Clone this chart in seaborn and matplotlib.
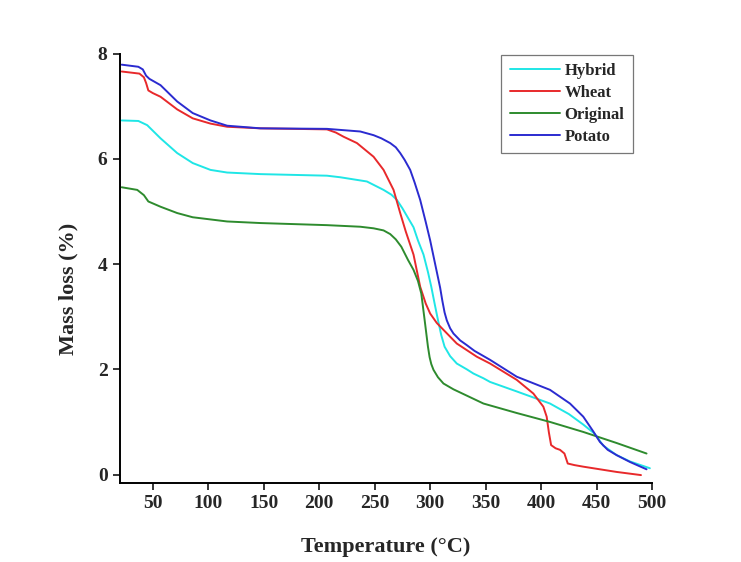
import numpy as np
import pandas as pd
import matplotlib
matplotlib.use("Agg")
import matplotlib.pyplot as plt
import seaborn as sns

# Thermogravimetric curves: temperature (°C) vs. mass loss (%)
T_hybrid = [22, 37, 45, 57, 72, 86, 102, 117, 147, 207, 219, 243, 258, 265, 270, 275,
            280, 285, 289, 294, 298, 301, 304, 307, 310, 313, 318, 324, 333, 339, 348,
            354, 378, 408, 425, 438, 448, 456, 468, 480, 498]
V_hybrid = [6.73, 6.72, 6.64, 6.39, 6.11, 5.92, 5.79, 5.74, 5.71, 5.68, 5.65, 5.57, 5.41,
            5.32, 5.22, 5.06, 4.88, 4.70, 4.45, 4.18, 3.85, 3.57, 3.25, 2.94, 2.65, 2.43,
            2.25, 2.11, 2.00, 1.92, 1.83, 1.76, 1.58, 1.35, 1.15, 0.95, 0.78, 0.55, 0.37,
            0.25, 0.12]

T_wheat = [22, 38, 42, 44, 46, 50, 57, 72, 86, 102, 117, 147, 207, 215, 222, 234, 249,
           258, 267, 273, 278, 285, 291, 296, 300, 306, 312, 324, 342, 354, 378, 393, 402,
           405, 407, 409, 413, 417, 421, 424, 430, 438, 468, 490]
V_wheat = [7.66, 7.62, 7.55, 7.44, 7.30, 7.25, 7.18, 6.94, 6.77, 6.67, 6.61, 6.58, 6.56,
           6.50, 6.42, 6.30, 6.04, 5.79, 5.41, 4.97, 4.62, 4.18, 3.57, 3.25, 3.06, 2.88,
           2.75, 2.49, 2.24, 2.11, 1.80, 1.54, 1.29, 1.10, 0.80, 0.56, 0.50, 0.47, 0.40,
           0.21, 0.18, 0.15, 0.05, -0.01]

T_original = [22, 36, 42, 46, 57, 72, 86, 117, 147, 207, 237, 249, 258, 264, 269, 274,
              280, 285, 289, 292, 295, 298, 299.5, 301, 303, 307, 312, 321, 348, 378, 408,
              438, 468, 495]
V_original = [5.46, 5.41, 5.31, 5.19, 5.09, 4.97, 4.89, 4.81, 4.78, 4.74, 4.71, 4.68, 4.64,
              4.57, 4.47, 4.33, 4.08, 3.89, 3.68, 3.44, 2.94, 2.43, 2.23, 2.10, 1.99, 1.85,
              1.73, 1.62, 1.35, 1.17, 1.00, 0.81, 0.60, 0.40]

T_potato = [22, 37, 41, 44, 47, 57, 72, 86, 102, 117, 147, 207, 219, 237, 249, 256, 264,
            269, 273, 277, 282, 286, 291, 296, 300, 303, 306, 309, 311, 313, 315, 318, 321,
            327, 333, 340, 354, 378, 408, 426, 438, 447, 453, 460, 468, 480, 495]
V_potato = [7.79, 7.75, 7.70, 7.58, 7.52, 7.40, 7.09, 6.87, 6.73, 6.63, 6.58, 6.57, 6.55,
            6.52, 6.45, 6.39, 6.30, 6.22, 6.11, 5.98, 5.79, 5.55, 5.22, 4.80, 4.45, 4.15,
            3.85, 3.55, 3.30, 3.08, 2.93, 2.78, 2.68, 2.55, 2.46, 2.35, 2.18, 1.86, 1.61,
            1.35, 1.10, 0.82, 0.62, 0.47, 0.37, 0.24, 0.10]

series_names = ["Hybrid", "Wheat", "Original", "Potato"]
series_T = [T_hybrid, T_wheat, T_original, T_potato]
series_V = [V_hybrid, V_wheat, V_original, V_potato]
colors = ["#1FE6E6", "#E8292B", "#2E8B2E", "#2B2BD0"]

x_ticks = [50, 100, 150, 200, 250, 300, 350, 400, 450, 500]
y_ticks = [0, 2, 4, 6, 8]

frames = []
for name, t, v in zip(series_names, series_T, series_V):
    frames.append(pd.DataFrame({"Temperature": t, "Mass": v, "Sample": name}))
df = pd.concat(frames, ignore_index=True)

sns.set_style("ticks")
plt.rcParams["font.family"] = ["Liberation Serif", "DejaVu Serif"]
plt.rcParams["font.weight"] = "bold"

fig = plt.figure(figsize=(7.41, 5.62), dpi=100)
ax = fig.add_axes([0.162, 0.1406, 0.718, 0.764])

sns.lineplot(data=df, x="Temperature", y="Mass", hue="Sample", hue_order=series_names,
             palette=colors, sort=False, estimator=None, linewidth=1.4, ax=ax)

ax.set_xlim(20.5, 500)
ax.set_ylim(-0.16, 8)
ax.set_xticks(x_ticks)
ax.set_yticks(y_ticks)
ax.tick_params(axis="both", direction="out", length=5, width=1.3, labelsize=14, pad=4)
for lab in ax.get_xticklabels() + ax.get_yticklabels():
    lab.set_fontweight("bold")

sns.despine(ax=ax)
for side in ("left", "bottom"):
    ax.spines[side].set_linewidth(1.4)
    ax.spines[side].set_color("black")

ax.set_xlabel("Temperature (°C)", fontsize=16, fontweight="bold")
ax.set_ylabel("Mass loss (%)", fontsize=16, fontweight="bold")
ax.xaxis.set_label_coords(0.50, -0.125)
ax.yaxis.set_label_coords(-0.079, 0.452)

leg = ax.legend(loc="upper right", bbox_to_anchor=(0.964, 0.997), frameon=True,
                fancybox=False, edgecolor="#555555", fontsize=12, handlelength=3.0,
                handletextpad=0.3, labelspacing=0.35, borderpad=0.5, borderaxespad=0)
leg.get_frame().set_linewidth(0.9)
for txt in leg.get_texts():
    txt.set_fontweight("bold")

fig.savefig("out.png", dpi=100)
